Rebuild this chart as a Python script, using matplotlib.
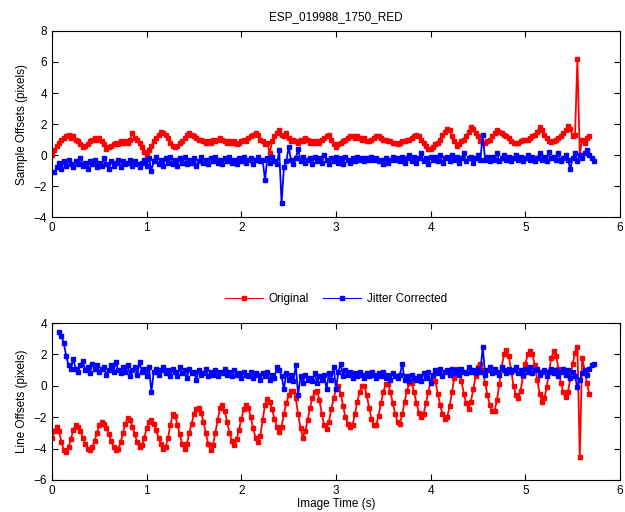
import numpy as np
import matplotlib
matplotlib.use("Agg")
import matplotlib.pyplot as plt

plt.rcParams['font.family'] = ['Liberation Sans', 'DejaVu Sans']
plt.rcParams['font.size'] = 8.5

dt = 0.025

# top panel: sample offsets
sample_orig_t0 = 0.0
sample_orig = [
    0.0, 0.3, 0.6, 0.8, 1.0, 1.1, 1.2, 1.3,
    1.1, 1.2, 1.0, 0.9, 0.7, 0.5, 0.6, 0.7,
    0.9, 1.0, 1.1, 1.0, 1.1, 0.9, 0.7, 0.4,
    0.5, 0.6, 0.7, 0.8, 0.7, 0.9, 0.8, 0.9,
    0.8, 1.0, 1.4, 1.1, 1.0, 0.8, 0.5, 0.2,
    0.0, 0.3, 0.6, 0.9, 1.1, 1.3, 1.5, 1.4,
    1.3, 1.1, 0.8, 0.6, 0.5, 0.6, 0.8, 0.9,
    1.1, 1.3, 1.4, 1.3, 1.2, 1.1, 1.0, 1.0,
    0.9, 0.8, 0.9, 0.8, 1.0, 0.9, 1.0, 1.1,
    1.0, 0.9, 0.8, 0.9, 0.8, 0.9, 0.7, 0.8,
    0.9, 1.0, 0.9, 1.1, 1.2, 1.3, 1.4, 1.3,
    1.0, 0.9, 0.7, 0.8, 0.1, 0.9, 1.2, 1.4,
    1.6, 1.3, 1.2, 1.4, 1.1, 0.9, 1.0, 0.9,
    0.8, 1.0, 0.9, 1.1, 1.0, 0.8, 0.9, 0.8,
    0.9, 0.8, 1.0, 1.1, 1.2, 1.3, 1.0, 0.7,
    0.5, 0.7, 0.8, 0.9, 1.0, 1.1, 1.2, 1.2,
    1.1, 1.2, 1.1, 1.0, 1.1, 0.9, 0.9, 1.0,
    1.1, 1.2, 1.2, 1.1, 1.0, 1.0, 0.9, 0.9,
    0.8, 0.8, 0.7, 0.8, 0.9, 0.9, 1.0, 1.0,
    1.1, 1.2, 1.3, 1.2, 1.0, 0.8, 0.6, 0.4,
    0.4, 0.5, 0.7, 0.8, 1.0, 1.3, 1.5, 1.7,
    1.6, 1.2, 0.9, 0.6, 0.7, 0.9, 1.0, 1.2,
    1.5, 1.8, 1.7, 1.4, 1.2, 0.9, 0.75, 0.8,
    0.9, 1.0, 1.2, 1.4, 1.6, 1.5, 1.4, 1.3,
    1.2, 1.1, 0.9, 0.8, 0.75, 0.8, 0.9, 1.0,
    0.95, 1.0, 1.1, 1.2, 1.3, 1.5, 1.8, 1.6,
    1.3, 1.1, 0.9, 0.85, 0.9, 1.0, 1.1, 1.2,
    1.4, 1.6, 1.9, 1.7, 1.2, 1.3, 6.2, 0.0,
    1.0, 0.8, 1.1, 1.2,
]

sample_corr_t0 = 0.025
sample_corr = [
    -1.1, -0.8, -0.5, -0.9, -0.4, -0.7, -0.3, -0.6,
    -0.8, -0.4, -0.6, -0.2, -0.7, -0.5, -0.9, -0.4,
    -0.6, -0.3, -0.8, -0.5, -0.7, -0.2, -0.6, -0.9,
    -0.4, -0.7, -0.5, -0.3, -0.8, -0.4, -0.6, -0.5,
    -0.3, -0.7, -0.4, -0.6, -0.8, -0.5, -0.3, -0.7,
    -0.2, -1.0, -0.4, -0.1, -0.6, -0.3, -0.7, -0.2,
    -0.5, -0.1, -0.6, -0.3, -0.7, -0.2, -0.5, -0.1,
    -0.6, -0.3, -0.5, -0.2, -0.7, -0.4, -0.1, -0.5,
    -0.3, -0.6, -0.2, -0.4, -0.1, -0.5, -0.3, -0.6,
    -0.2, -0.4, -0.1, -0.5, -0.3, -0.6, -0.2, -0.4,
    -0.1, -0.5, -0.3, -0.2, -0.6, -0.3, -0.1, -0.4,
    -0.3, -1.6, -0.2, -0.5, -0.1, -0.4, -0.6, 0.3,
    -3.1, -0.8, -0.4, 0.5, -0.3, -0.6, -0.2, 0.4,
    -0.4, -0.1, -0.5, -0.3, -0.2, -0.6, -0.1, -0.4,
    -0.2, -0.5, 0.0, -0.3, -0.6, -0.2, -0.4, -0.1,
    -0.5, -0.2, -0.6, -0.1, -0.3, -0.5, -0.2, -0.4,
    -0.1, -0.3, -0.2, -0.4, -0.2, -0.3, -0.1, -0.3,
    -0.2, -0.4, -0.3, -0.6, -0.2, -0.5, -0.3, -0.1,
    -0.3, -0.2, -0.4, -0.1, -0.5, -0.2, 0.0, -0.4,
    -0.1, -0.5, -0.2, 0.1, -0.4, -0.2, -0.6, -0.1,
    -0.3, -0.1, -0.4, 0.0, -0.5, -0.2, -0.1, -0.4,
    0.0, -0.3, -0.1, -0.5, -0.2, 0.1, -0.4, -0.2,
    -0.1, -0.5, -0.2, 0.0, -0.3, 1.3, -0.3, -0.1,
    -0.4, -0.1, -0.3, 0.1, -0.4, -0.2, 0.0, -0.3,
    -0.1, -0.4, -0.2, 0.0, -0.3, -0.1, -0.4, -0.2,
    0.0, -0.3, -0.1, -0.4, -0.2, 0.1, -0.3, -0.1,
    -0.4, 0.2, -0.2, -0.1, -0.3, 0.1, -0.4, -0.2,
    0.0, -0.3, -0.9, -0.2, 0.1, -0.4, 0.0, -0.2,
    0.1, 0.3, 0.0, -0.2, -0.4,
]

# bottom panel: line offsets
line_orig_t0 = 0.0
line_orig = [
    -3.3, -2.9, -2.6, -2.9, -3.6, -4.1, -4.2, -3.9,
    -3.4, -2.8, -2.5, -2.6, -2.9, -3.3, -3.7, -4.0,
    -4.1, -3.9, -3.5, -3.0, -2.5, -2.3, -2.4, -2.7,
    -3.1, -3.5, -3.9, -4.1, -4.0, -3.6, -3.0, -2.4,
    -2.05, -2.2, -2.6, -3.1, -3.6, -3.9, -3.8, -3.3,
    -2.7, -2.3, -2.2, -2.4, -2.8, -3.3, -3.7, -4.0,
    -3.9, -3.3, -2.5, -1.8, -1.9, -2.5, -3.1, -3.7,
    -4.0, -3.7, -3.0, -2.4, -1.8, -1.5, -1.4, -1.7,
    -2.3, -3.0, -3.7, -4.1, -3.8, -3.0, -2.2, -1.4,
    -1.2, -1.6, -2.3, -3.0, -3.5, -3.75, -3.4, -2.8,
    -2.1, -1.5, -1.25, -1.4, -2.0, -2.7, -3.3, -3.6,
    -3.2, -2.2, -1.2, -0.85, -1.0, -1.5, -2.1, -2.6,
    -2.95, -2.6, -1.8, -1.1, -0.6, -0.35, -0.3, -0.8,
    -1.8, -2.7, -3.3, -2.9, -2.2, -1.4, -0.8, -0.4,
    -0.3, -0.9, -1.8, -2.5, -2.75, -2.3, -1.5, -0.8,
    -0.2, 0.0, -0.5, -1.3, -2.0, -2.4, -2.6, -2.5,
    -1.8, -1.0, -0.4, 0.0, 0.0, -0.6, -1.4, -2.1,
    -2.5, -2.5, -1.9, -1.1, -0.4, 0.1, 0.1, -0.4,
    -1.1, -1.8, -2.3, -2.4, -1.8, -1.0, -0.3, 0.2,
    0.2, -0.4, -1.1, -1.7, -2.0, -1.8, -1.1, -0.4,
    0.3, 0.6, 0.3, -0.5, -1.2, -1.8, -2.1, -2.0,
    -1.3, -0.4, 0.5, 1.1, 1.0, 0.3, -0.5, -1.1,
    -1.45, -1.0, -0.2, 0.6, 1.2, 1.4, 1.0, 0.2,
    -0.6, -1.2, -1.6, -1.6, -0.9, 0.1, 1.2, 2.0,
    2.3, 1.9, 1.0, 0.0, -0.6, -0.8, -0.3, 0.6,
    1.4, 2.0, 2.2, 2.0, 1.3, 0.4, -0.5, -1.0,
    -0.8, -0.1, 0.9, 1.8, 2.2, 1.9, 1.1, 0.2,
    -0.4, -0.7, -0.4, 0.5, 1.4, 2.1, 2.5, -4.55,
    1.8, 1.0, 0.2, -0.5,
]

line_corr_t0 = 0.075
line_corr = [
    3.4, 3.2, 2.7, 1.9, 1.3, 1.1, 1.7, 1.1,
    0.9, 1.3, 1.6, 1.0, 1.2, 0.8, 1.4, 1.1,
    1.3, 0.9, 1.1, 1.2, 0.7, 1.0, 1.3, 0.9,
    1.5, 1.0, 0.8, 1.2, 0.9, 1.3, 0.6, 1.0,
    1.2, 0.7, 1.5, 0.9, 1.1, 0.6, 1.2, -0.4,
    0.9, 1.1, 0.7, 1.0, 1.2, 0.8, 1.0, 0.6,
    1.1, 0.9, 0.6, 1.2, 0.8, 1.0, 0.5, 1.1,
    0.8, 0.9, 0.4, 1.0, 0.7, 0.8, 1.1, 0.6,
    0.9, 0.7, 1.0, 0.6, 0.9, 0.8, 1.1, 0.7,
    0.9, 0.6, 1.0, 0.7, 0.8, 0.5, 0.9, 0.7,
    0.6, 0.9, 0.5, 0.8, 0.7, 0.4, 0.8, 0.6,
    0.9, 0.4, 0.7, 0.5, 1.2, 1.0, 0.6, -0.2,
    0.8, 0.4, 0.7, 0.3, 1.3, -0.6, 0.6, 0.2,
    0.7, 0.4, 0.5, 0.3, 0.8, 0.2, 0.6, 0.4,
    0.7, -0.2, 0.8, 0.4, 1.2, -0.2, 0.9, 1.4,
    0.6, 1.0, 0.7, 0.9, 0.5, 0.8, 0.6, 0.9,
    0.7, 0.5, 0.8, 0.6, 0.9, 0.7, 0.5, 0.8,
    0.6, 0.9, 0.5, 0.7, 0.4, 0.8, 0.6, 0.5,
    0.7, 1.4, 0.4, 0.6, 0.3, 0.7, 0.5, 0.4,
    0.6, 0.3, 0.8, 0.5, 0.9, 0.2, 0.7, 1.0,
    0.8, 1.1, 0.6, 0.9, 1.0, 0.7, 1.1, 0.8,
    1.0, 0.7, 1.1, 0.9, 0.8, 1.2, 0.9, 1.0,
    0.8, 1.1, 0.9, 2.5, 0.7, 1.0, 1.2, 0.8,
    1.1, 0.9, 0.7, 1.2, 1.0, 0.8, 1.1, 0.9,
    1.0, 1.2, 0.8, 1.0, 0.7, 1.1, 0.9, 1.2,
    0.8, 1.0, 1.1, 0.7, 0.9, 1.0, 0.6, 0.9,
    1.1, 0.8, 1.0, 0.6, 0.9, 1.1, 0.7, 1.0,
    0.5, 0.9, 0.6, -0.1, 0.4, 0.8, 1.0, 0.7,
    1.1, 1.3, 1.4,
]

title = "ESP_019988_1750_RED"
labels = ["Original", "Jitter Corrected"]


def times(t0, vals):
    return t0 + dt * np.arange(len(vals))


def style(ax):
    ax.set_xlim(0, 6)
    ax.tick_params(direction='in', top=True, right=True, length=4, width=0.8)
    for s in ax.spines.values():
        s.set_linewidth(0.8)


fig = plt.figure(figsize=(6.25, 5.12), dpi=100)
ax1 = fig.add_axes([0.0832, 0.576, 0.9088, 0.3635])
ax2 = fig.add_axes([0.0832, 0.0625, 0.9088, 0.3065])

kw = dict(marker='s', markersize=2.6, linewidth=1.3)

ax1.plot(times(sample_orig_t0, sample_orig), sample_orig, color='red', **kw)
ax1.plot(times(sample_corr_t0, sample_corr), sample_corr, color='blue', **kw)
ax1.set_ylim(-4, 8)
ax1.set_yticks([-4, -2, 0, 2, 4, 6, 8])
ax1.set_ylabel("Sample Offsets (pixels)")
ax1.set_title(title, fontsize=8.5, pad=8)
style(ax1)

l1, = ax2.plot(times(line_orig_t0, line_orig), line_orig, color='red', **kw)
l2, = ax2.plot(times(line_corr_t0, line_corr), line_corr, color='blue', **kw)
ax2.set_ylim(-6, 4)
ax2.set_yticks([-6, -4, -2, 0, 2, 4])
ax2.set_ylabel("Line Offsets (pixels)")
ax2.set_xlabel("Image Time (s)", labelpad=1)
style(ax2)

leg = fig.legend([l1, l2], labels, loc='center', bbox_to_anchor=(0.538, 0.416),
                 ncol=2, frameon=False, handlelength=3.2, columnspacing=1.2,
                 handletextpad=0.5)
for h in leg.get_lines():
    h.set_linewidth(0.8)
    h.set_markersize(2.2)

fig.savefig("out.png", dpi=100)
